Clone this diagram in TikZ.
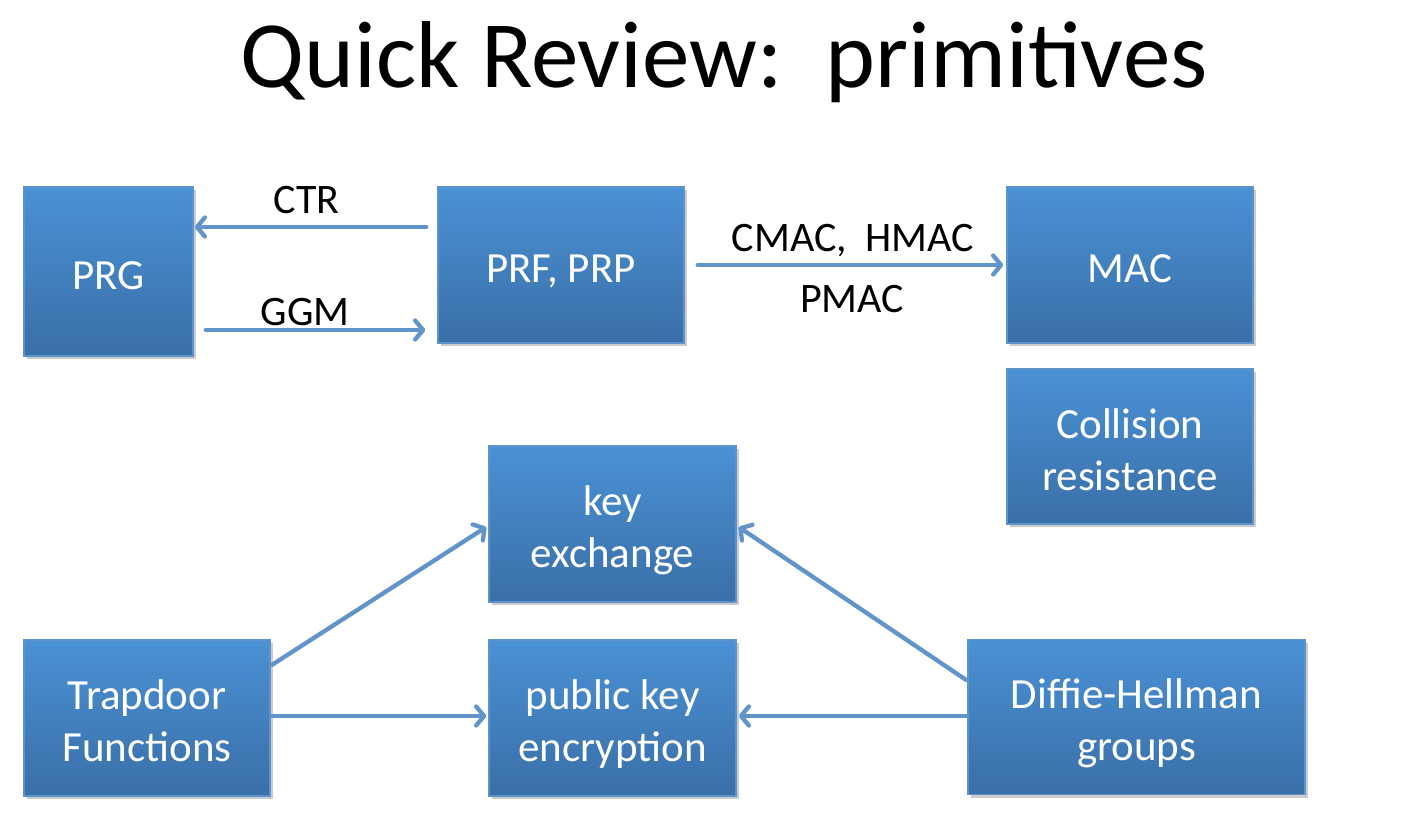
\documentclass[tikz,border=0pt]{standalone}
\usepackage{fontspec}
\setmainfont{Carlito}
\usetikzlibrary{arrows.meta,shadows,calc}
\definecolor{boxtop}{HTML}{4A91D5}
\definecolor{boxbot}{HTML}{3A6FA7}
\definecolor{boxline}{HTML}{5E92CC}
\definecolor{arrowc}{HTML}{6194C9}
\newcommand\boxstrut{\rule[-11pt]{0pt}{57pt}}
\begin{document}
\begin{tikzpicture}[x=1pt,y=-1pt,
  box/.style={rectangle, draw=boxline, line width=1.5pt, top color=boxtop, bottom color=boxbot,
    text=white, font={\fontsize{43}{52}\selectfont\lineskiplimit=-100pt}, align=center, inner sep=0pt,
    drop shadow={shadow xshift=3pt, shadow yshift=-3pt, fill=black!50, opacity=0.4}},
  arr/.style={draw=arrowc, line width=4.3pt, line cap=round,
    -{Straight Barb[length=8pt,width=19pt,line cap=round,line join=round]}},
  lbl/.style={font=\fontsize{42}{48}\selectfont, text=black, inner sep=0pt, anchor=base}
]
\useasboundingbox[fill=white] (0,0) rectangle (1412,821);
\node[font=\fontsize{95}{110}\selectfont, inner sep=0pt, anchor=base] (title) at (724,88) {Quick Review:\ \ primitives};

\node[box, minimum width=169pt, minimum height=169pt] (PRG) at (108.5,271.5) {\boxstrut PRG\boxstrut};
\node[box, minimum width=246pt, minimum height=156pt] (PRF) at (561,265) {\boxstrut PRF, PRP\boxstrut};
\node[box, minimum width=246pt, minimum height=156pt] (MAC) at (1130,265) {\boxstrut MAC\boxstrut};
\node[box, minimum width=246pt, minimum height=155pt] (CR) at (1130,446.5) {\boxstrut Collision\\resistance\boxstrut};
\node[box, minimum width=247pt, minimum height=156pt] (KE) at (612.5,524) {\boxstrut key\\exchange\boxstrut};
\node[box, minimum width=247pt, minimum height=156pt] (PKE) at (612.5,718) {\boxstrut public key\\encryption\boxstrut};
\node[box, minimum width=246pt, minimum height=156pt] (TF) at (147,718) {\boxstrut Trapdoor\\Functions\boxstrut};
\node[box, minimum width=337pt, minimum height=155pt] (DH) at (1136.5,717) {\boxstrut Diffie-Hellman\\groups\boxstrut};

\coordinate (ctrS) at ($(PRF.west)+(-11,-38)$);
\draw[arr] (ctrS) -- ($(PRG.east |- ctrS)+(1,0)$);
\coordinate (ggmS) at ($(PRG.east)+(12,58.5)$);
\draw[arr] (ggmS) -- ($(PRF.west |- ggmS)+(-12,0)$);
\draw[arr] ($(PRF.east)+(13,0)$) -- ($(MAC.west)+(-3,0)$);
\draw[arr] ($(TF.east)+(1,-53)$) -- ($(KE.west)+(-2,3)$);
\draw[arr] ($(TF.east)+(1,-2)$) -- ($(PKE.west |- TF.east)+(-2,-2)$);
\draw[arr] ($(DH.west)+(-1,-37)$) -- ($(KE.east)+(2,3)$);
\draw[arr] ($(DH.west)+(-1,-1)$) -- ($(PKE.east |- DH.west)+(2,-1)$);

\node[lbl] (ctr) at (306.5,213) {CTR};
\node[lbl] (ggm) at (305,325) {GGM};
\node[lbl] (cmac) at (853,251) {CMAC,\ \ HMAC};
\node[lbl] (pmac) at (852,312) {PMAC};
\end{tikzpicture}
\end{document}
